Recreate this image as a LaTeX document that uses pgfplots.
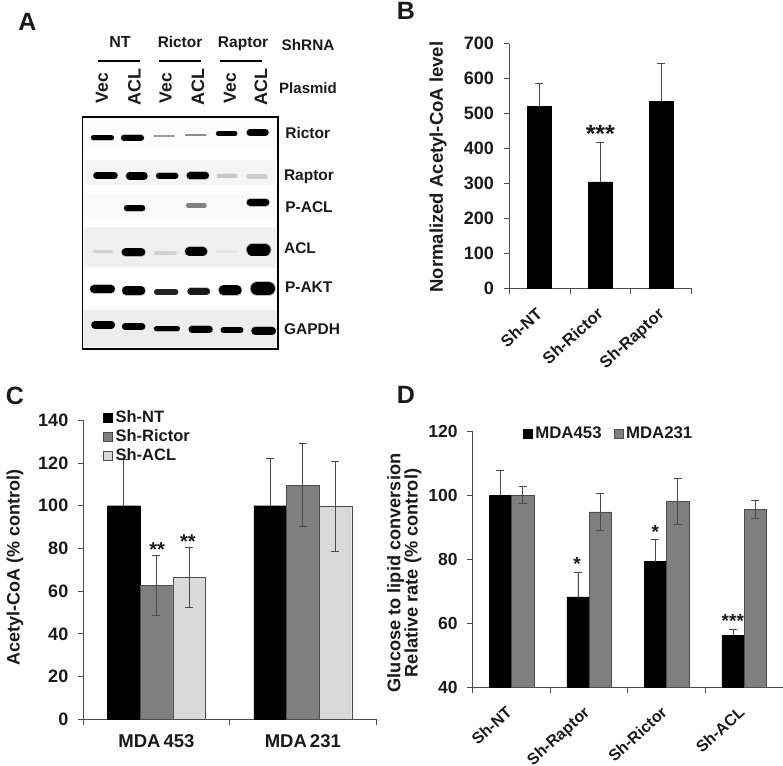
\documentclass[border=0pt]{standalone}
\usepackage{fontspec}
\setmainfont{Liberation Sans}
\usepackage{pgfplots}
\pgfplotsset{compat=1.18}
\definecolor{txt}{HTML}{1A1A1A}
\definecolor{axc}{HTML}{4D4D4D}
\definecolor{errc}{HTML}{4A4A4A}
\definecolor{gb}{HTML}{7F7F7F}
\definecolor{gl}{HTML}{D9D9D9}
\newcommand\fs[1]{\fontsize{#1}{#1}\selectfont\bfseries}
\newcommand\lab[4][]{\node[text=txt,inner sep=0pt,#1] at (#2pt,{(765-#3)*1pt}) {#4};}
% a blot band: colour, thickness, x1, x2, y (reference-zoom units)
\newcommand\band[5]{%
  \pgfmathsetmacro\bA{#3+#2/2}\pgfmathsetmacro\bB{#4-#2/2}%
  \pgfmathsetmacro\lwO{#2/3*1.15}\pgfmathsetmacro\lwI{#2/3*1.0}%
  \edef\doband{\noexpand\addplot[no marks,line cap=round,draw=#1,opacity=.25,line width=\lwO pt] coordinates {(\bA,#5) (\bB,#5)};
  \noexpand\addplot[no marks,line cap=round,draw=#1,line width=\lwI pt] coordinates {(\bA,#5) (\bB,#5)};}\doband}
\newcommand\bgrow[5]{\addplot[fill=#1,draw=none,no marks] coordinates {(#2,#4) (#3,#4) (#3,#5) (#2,#5) (#2,#4)};}
\pgfplotsset{
  panel/.style={
    scale only axis,
    axis x line*=bottom, axis y line*=left,
    axis line style={draw=axc,line width=.8pt,-},
    tick style={draw=axc,line width=.8pt},
    tick align=outside, major tick length=5.5pt,
    /pgf/number format/assume math mode=true,
    tick label style={text=txt},
    yticklabel style={font=\fs{18},xshift=-6pt},
    x tick label as interval,
    enlargelimits=false,
    clip=true,
  },
  errs/.style={
    error bars/.cd, y dir=#1, y explicit,
    error bar style={draw=errc,line width=.8pt},
    error mark options={rotate=90,draw=errc,mark size=4pt,line width=.8pt},
  },
  sw/.style={legend image code/.code={\draw[##1] (0pt,-4.5pt) rectangle (9pt,4.5pt);\path (11pt,0pt);}},
}
\begin{document}
\begin{tikzpicture}
\path[use as bounding box] (0,0) rectangle (783pt,765pt);
%----- A
\begin{axis}[at={(82.3pt,415.7pt)},anchor=south west,scale only axis,width=195.7pt,height=232pt,
  xmin=247,xmax=834,ymin=352,ymax=1048,y dir=reverse,xtick=\empty,ytick=\empty,
  axis on top,clip=false,axis line style={line width=1.6pt,draw=black}]
\bgrow{black!1}{252}{828}{365}{450}
\bgrow{black!4}{252}{828}{480}{555}
\bgrow{black!2}{252}{828}{580}{655}
\bgrow{black!6}{252}{830}{682}{803}
\bgrow{black!7}{252}{830}{930}{1040}
% Rictor
\band{black}{15}{273}{342}{414}\band{black}{18}{363}{432}{413}
\band{black!40}{7}{460}{525}{408}\band{black!45}{6}{555}{620}{405}
\band{black}{13}{648}{712}{401}\band{black}{20}{740}{806}{398}
% Raptor
\band{black}{20}{280}{353}{527}\band{black}{22}{378}{443}{528}
\band{black}{18}{468}{535}{527}\band{black}{22}{560}{627}{527}
\band{black!22}{12}{650}{712}{527}\band{black!20}{14}{740}{803}{530}
% P-ACL
\band{black}{18}{372}{436}{625}\band{black!50}{14}{558}{620}{617}\band{black}{22}{740}{808}{607}
% ACL
\band{black!18}{10}{278}{340}{755}\band{black}{24}{365}{436}{757}
\band{black!18}{10}{462}{530}{759}\band{black}{26}{555}{622}{754}
\band{black!10}{8}{650}{712}{755}\band{black}{34}{740}{812}{750}
% P-AKT
\band{black}{24}{270}{345}{867}\band{black}{26}{366}{436}{872}
\band{black!85}{16}{462}{535}{876}\band{black!90}{20}{562}{630}{874}
\band{black}{30}{656}{725}{871}\band{black}{40}{752}{825}{866}
% GAPDH
\band{black}{22}{274}{345}{975}\band{black}{20}{366}{436}{980}
\band{black}{16}{462}{540}{986}\band{black}{20}{566}{638}{988}
\band{black}{16}{662}{730}{990}\band{black}{24}{754}{828}{992}
% group lines
\addplot[no marks,black,line width=2.4pt] coordinates {(295,183) (420,183)};
\addplot[no marks,black,line width=2.4pt] coordinates {(477,183) (602,183)};
\addplot[no marks,black,line width=2.4pt] coordinates {(661,183) (787,183)};
\end{axis}
%----- B
\begin{axis}[panel,at={(509pt,476.3pt)},anchor=south west,width=182.7pt,height=245pt,
  xmin=.5,xmax=3.5,ymin=0,ymax=700,ytick={0,100,...,700},
  xtick={.5,1.5,2.5,3.5},xticklabels={Sh-NT,Sh-Rictor,Sh-Raptor},
  xticklabel style={font=\fs{16.5},rotate=42,anchor=north east,xshift=-8pt,yshift=-3pt},
  ybar=0pt,bar width=24pt]
\addplot[fill=black,draw=black,errs=plus] coordinates {(1,520) +- (0,66) (2,305) +- (0,112) (3,535) +- (0,109)};
\node[font=\fs{25},text=txt,inner sep=0pt] at (axis cs:2,441) {***};
\end{axis}
%----- C
\begin{axis}[panel,at={(83.3pt,45.7pt)},anchor=south west,width=292.7pt,height=299pt,
  xmin=.5,xmax=2.5,ymin=0,ymax=140,ytick={0,20,...,140},
  xtick={.5,1.5,2.5},xticklabels={MDA\,453,MDA\,231},
  xticklabel style={font=\fs{18.5},yshift=-6pt},
  ybar=0pt,bar width=32.6pt,
  legend style={at={(.0673,1.036)},anchor=north west,draw=none,fill=none,inner sep=0pt,
    font=\fs{16.5},text=txt,row sep=3.5pt,
    nodes={inner sep=1pt,anchor=west}},legend cell align=left,sw]
\addplot[fill=black,draw=black,errs=plus] coordinates {(1,100) +- (0,21.5) (2,100) +- (0,22.2)};
\addplot[fill=gb,draw=axc,errs=both] coordinates {(1,62.7) +- (0,13.9) (2,109.6) +- (0,19.5)};
\addplot[fill=gl,draw=axc,errs=both] coordinates {(1,66.5) +- (0,13.9) (2,99.7) +- (0,21.2)};
\legend{Sh-NT,Sh-Rictor,Sh-ACL}
\node[font=\fs{20},text=txt,inner sep=0pt] at (axis cs:1.005,79.4) {**};
\node[font=\fs{20},text=txt,inner sep=0pt] at (axis cs:1.215,83) {**};
\end{axis}
%----- D
\begin{axis}[panel,at={(472.7pt,78pt)},anchor=south west,width=310.3pt,height=256pt,
  xmin=.5,xmax=4.5,ymin=40,ymax=120,ytick={40,60,...,120},
  xtick={.5,1.5,2.5,3.5,4.5},xticklabels={Sh-NT,Sh-Raptor,Sh-Rictor,Sh-ACL},
  xticklabel style={font=\fs{16},rotate=42,anchor=north east,xshift=-10pt,yshift=-2pt},
  yticklabel style={font=\fs{17.5}},
  ybar=0pt,bar width=22.3pt,
  legend columns=2,
  legend style={at={(.1612,1.02)},anchor=north west,draw=none,fill=none,inner sep=0pt,
    font=\fs{16.8},text=txt,nodes={inner sep=1pt,anchor=west}},legend cell align=left,sw]
\addplot[fill=black,draw=black,errs=plus] coordinates {(1,100) +- (0,7.8) (2,68.2) +- (0,7.5) (3,79.2) +- (0,6.8) (4,56.25) +- (0,1.6)};
\addplot[fill=gb,draw=axc,errs=both] coordinates {(1,100) +- (0,2.6) (2,94.7) +- (0,5.9) (3,98.1) +- (0,7.2) (4,95.6) +- (0,2.8)};
\legend{MDA453\hspace{11pt}\mbox{},MDA231}
\node[font=\fs{19},text=txt,inner sep=0pt] at (axis cs:1.845,78.6) {*};
\node[font=\fs{19},text=txt,inner sep=0pt] at (axis cs:2.854,88.3) {*};
\node[font=\fs{19},text=txt,inner sep=0pt] at (axis cs:3.853,60.6) {***};
\end{axis}
%----- text
\lab{27.5}{22}{\fs{25}A}
\lab{406}{11}{\fs{25}B}
\lab{15}{396}{\fs{25}C}
\lab{406}{395}{\fs{25}D}
\lab{120}{42}{\fs{16}NT}
\lab{180}{42}{\fs{15.4}Rictor}
\lab{243}{44}{\fs{15.6}Raptor}
\lab{308}{45}{\fs{15.3}ShRNA}
\lab{308}{87.7}{\fs{15}Plasmid}
\lab[rotate=90]{102}{88}{\fs{17.5}Vec}
\lab[rotate=90]{134.5}{87}{\fs{18}ACL}
\lab[rotate=90]{165.7}{88}{\fs{17.5}Vec}
\lab[rotate=90]{198}{87}{\fs{18}ACL}
\lab[rotate=90]{230}{88}{\fs{17.5}Vec}
\lab[rotate=90]{261}{87}{\fs{18}ACL}
\lab{307.7}{133}{\fs{15.5}Rictor}
\lab{309}{177}{\fs{15.5}Raptor}
\lab{309}{207}{\fs{15.5}P-ACL}
\lab{300}{248}{\fs{15.5}ACL}
\lab{308.7}{287}{\fs{15.5}P-AKT}
\lab{312}{329}{\fs{15.5}GAPDH}
\lab[rotate=90]{438}{167}{\fs{18.5}Normalized Acetyl-CoA level}
\lab[rotate=90]{15}{567.7}{\fs{18}Acetyl-CoA (\% control)}
\lab[rotate=90]{395.7}{573}{\fs{18.2}Glucose to lipid conversion}
\lab[rotate=90]{413}{573}{\fs{18.2}Relative rate (\% control)}
\end{tikzpicture}
\end{document}
